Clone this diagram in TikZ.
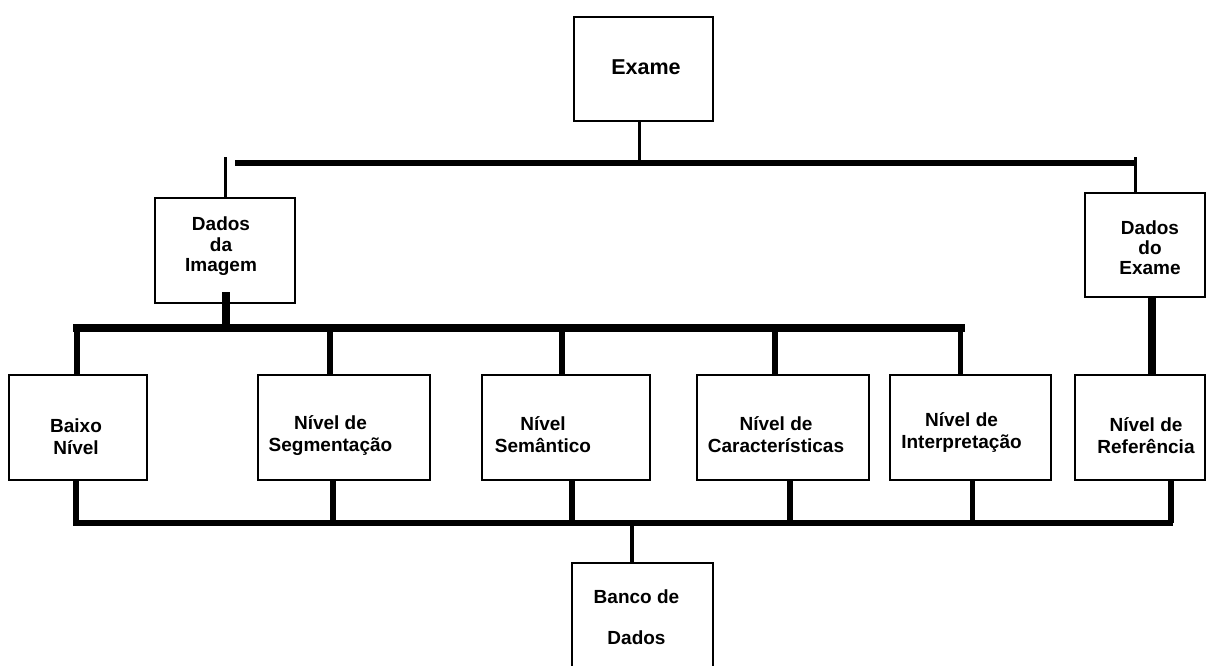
\documentclass[tikz,border=0pt]{standalone}
\usepackage{fontspec}
\setmainfont{Liberation Sans}
\usetikzlibrary{positioning,calc}
\tikzset{
block/.style = {draw, fill=white, rectangle, line width=2.6pt, inner sep=0pt, minimum height=105pt},
lbl/.style = {align=center, inner sep=0pt, font=\bfseries\fontsize{19}{22}\selectfont},
bus/.style = {line width=5.5pt},
wire/.style = {line width=3pt}
}

\begin{document}
\begin{tikzpicture}[x=1pt, y=-1pt]
  \useasboundingbox (0,0) rectangle (1207,666);
  \clip (0,0) rectangle (1207,666);
  % boxes
  \node [block, minimum width=139pt, minimum height=104pt] (exame) at (643.5,69) {};
  \node [block, minimum width=140pt] (dimg) at (225,250.5) {};
  \node [block, minimum width=120pt, minimum height=104pt] (dexa) at (1145,245) {};
  \node [block, minimum width=138pt] (baixo) at (78,427.5) {};
  \node [block, minimum width=172pt] (segm) at (344,427.5) {};
  \node [block, minimum width=168pt] (sem) at (566,427.5) {};
  \node [block, minimum width=172pt] (carac) at (783,427.5) {};
  \node [block, minimum width=161pt] (interp) at (970.5,427.5) {};
  \node [block, minimum width=130pt] (refe) at (1140,427.5) {};
  \node [block, minimum width=141pt, minimum height=116pt] (banco) at (642.5,621) {};
  % texts
  \node [lbl, font=\bfseries\fontsize{21.5}{24}\selectfont] (exameT) at ([shift={(2.5,-2)}]exame.center) {Exame};
  \node [lbl, font=\bfseries\fontsize{19}{20.5}\selectfont] (dimgT) at ([shift={(-4,-4)}]dimg.center) {Dados\\da\\Imagem};
  \node [lbl, font=\bfseries\fontsize{19}{20}\selectfont] (dexaT) at ([shift={(5,3)}]dexa.center) {Dados\\do\\Exame};
  \node [lbl] (baixoT) at ([shift={(-2,9)}]baixo.center) {Baixo\\Nível};
  \node [lbl] (segmT) at ([shift={(-13.5,8)}]segm.center) {Nível de\\Segmentação};
  \node [lbl] (semT) at ([shift={(-23,7)}]sem.center) {Nível\\Semântico};
  \node [lbl] (caracT) at ([shift={(-7,7)}]carac.center) {Nível de\\Características};
  \node [lbl] (interpT) at ([shift={(-9,5)}]interp.center) {Nível de\\Interpretação};
  \node [lbl] (refeT) at ([shift={(6,8)}]refe.center) {Nível de\\Referência};
  \node [lbl, font=\bfseries\fontsize{19}{41}\selectfont] (bancoT) at ([shift={(-6,-4)}]banco.center) {Banco de\\Dados};
  % bus lines
  \coordinate (tbL) at (235,163);
  \coordinate (tbR) at (1134,163);
  \coordinate (mbL) at (73,328);
  \coordinate (mbR) at (965,328);
  \coordinate (bbL) at (73,523);
  \coordinate (bbR) at (1173,523);
  % top level
  \draw [bus, line width=6pt] (tbL) -- (tbR);
  \draw [wire] ([xshift=-4.5pt]exame.south) -- ([xshift=-4.5pt]exame.south |- tbL);
  \draw [wire] (dimg.north) -- ++(0,-40);
  \draw [wire] ([xshift=-10pt]dexa.north) -- ++(0,-35);
  % middle level
  \draw [bus, line width=7.5pt] (mbL) -- (mbR);
  \draw [bus, line width=8pt] ([shift={(1,-12)}]dimg.south) -- ([xshift=1pt]dimg.south |- mbL);
  \foreach \b/\dx in {baixo/-1, segm/-14, sem/-4, carac/-8, interp/-10}
    \draw [bus] ([xshift=\dx pt]\b.north) -- ([xshift=\dx pt]\b.north |- mbL);
  \draw [bus, line width=8pt] ([xshift=7pt]dexa.south) -- ([shift={(12,2)}]refe.north);
  % bottom level
  \draw [bus] (bbL) -- (bbR);
  \foreach \b/\dx in {baixo/-2, segm/-11, sem/6, carac/7, interp/2, refe/31}
    \draw [bus] ([xshift=\dx pt]\b.south) -- ([xshift=\dx pt]\b.south |- bbL);
  \draw [wire, line width=3.5pt] ([xshift=-10.5pt]banco.north) -- ([xshift=-10.5pt]banco.north |- bbL);
\end{tikzpicture}
\end{document}
